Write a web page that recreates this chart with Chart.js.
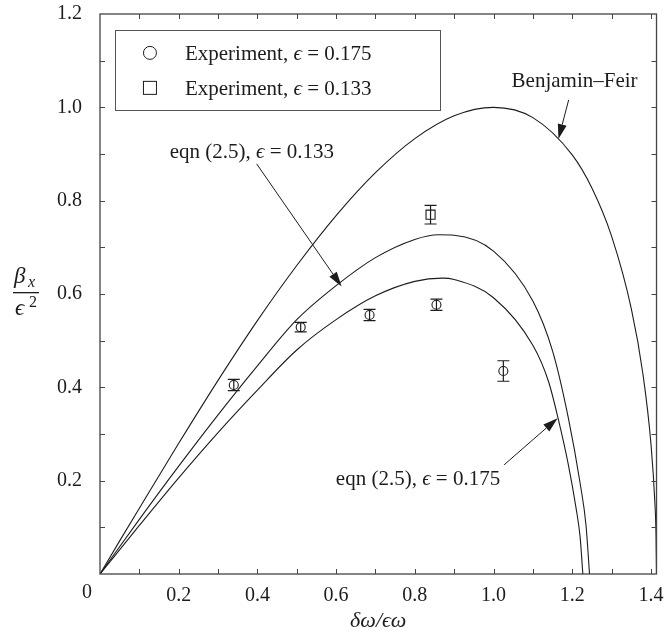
<!DOCTYPE html>
<html><head><meta charset="utf-8">
<script src="https://cdn.jsdelivr.net/npm/chart.js@4.4.1/dist/chart.umd.min.js"></script>
<style>html,body{margin:0;padding:0;background:#fff}#wrap{width:664px;height:638px}</style>
</head><body><div id="wrap"><canvas id="c" width="664" height="638"></canvas></div>
<script>
// ---- data ----
const BF_X = [0, 0.05, 0.1, 0.2, 0.3, 0.4, 0.5, 0.6, 0.7, 0.8, 0.9, 1.0, 1.1, 1.2, 1.25, 1.3, 1.35, 1.38, 1.4, 1.41, 1.413, 1.4142];
const BF_Y = [0, 0.071, 0.141, 0.280, 0.415, 0.543, 0.661, 0.768, 0.860, 0.933, 0.982, 1.000, 0.978, 0.898, 0.827, 0.724, 0.569, 0.427, 0.280, 0.154, 0.083, 0];

const EQ133_X = [0, 0.1, 0.2, 0.3, 0.4, 0.5, 0.6, 0.7, 0.8, 0.86, 0.9, 1.0, 1.1, 1.15, 1.19, 1.22, 1.235, 1.244];
const EQ133_Y = [0, 0.117, 0.231, 0.341, 0.446, 0.545, 0.618, 0.678, 0.717, 0.727, 0.726, 0.692, 0.585, 0.478, 0.335, 0.195, 0.105, 0];

const EQ175_X = [0, 0.1, 0.2, 0.3, 0.4, 0.5, 0.6, 0.7, 0.8, 0.87, 0.9, 1.0, 1.1, 1.14, 1.164, 1.19, 1.21, 1.22, 1.227];
const EQ175_Y = [0, 0.104, 0.206, 0.303, 0.394, 0.480, 0.545, 0.596, 0.627, 0.634, 0.631, 0.592, 0.490, 0.412, 0.334, 0.235, 0.140, 0.080, 0];

const EXP175_X = [0.34, 0.51, 0.685, 0.855, 1.025];
const EXP175_Y = [0.405, 0.529, 0.555, 0.577, 0.435];
const EXP175_ERR = [0.012, 0.010, 0.012, 0.012, 0.022];

const EXP133_X = [0.84];
const EXP133_Y = [0.770];
const EXP133_ERR = [0.020];

const X_TICKS = [0, 0.1, 0.2, 0.3, 0.4, 0.5, 0.6, 0.7, 0.8, 0.9, 1.0, 1.1, 1.2, 1.3, 1.4];
const X_LABELS = ['', '', '0.2', '', '0.4', '', '0.6', '', '0.8', '', '1.0', '', '1.2', '', '1.4'];
const Y_TICKS = [0, 0.1, 0.2, 0.3, 0.4, 0.5, 0.6, 0.7, 0.8, 0.9, 1.0, 1.1, 1.2];
const Y_LABELS = ['', '', '0.2', '', '0.4', '', '0.6', '', '0.8', '', '1.0', '', '1.2'];
const ORIGIN_LABEL = '0';
const EPS = '\u03F5';
const X_TITLE = 'δω/' + EPS + 'ω';
const LEGEND_LABELS = ['0.175', '0.133'];
const ANNOT = [
  {text: 'Benjamin\u2013Feir', tx: 1.206, ty: 1.044, align: 'center', eps: null, from: [1.191, 1.016], to: [1.165, 0.932]},
  {text: 'eqn (2.5), ', eps: '0.133', tx: 0.177, ty: 0.891, align: 'left', from: [0.398, 0.879], to: [0.614, 0.616]},
  {text: 'eqn (2.5), ', eps: '0.175', tx: 1.017, ty: 0.191, align: 'right', from: [1.027, 0.234], to: [1.163, 0.334]}
];

const zip = (xs, ys) => xs.map((x, i) => ({x, y: ys[i]}));
const INK = '#1c1c1c';
const SERIF = '"Liberation Serif", "DejaVu Serif", "Times New Roman", serif';

function drawRich(ctx, parts, x, y, align, size) {
  let w = 0;
  const fonts = parts.map(p => (p[1] ? 'italic ' : '') + size + 'px ' + SERIF);
  parts.forEach((p, i) => { ctx.font = fonts[i]; w += ctx.measureText(p[0]).width; });
  let sx = align === 'left' ? x : align === 'right' ? x - w : x - w / 2;
  ctx.textAlign = 'left';
  ctx.textBaseline = 'alphabetic';
  parts.forEach((p, i) => { ctx.font = fonts[i]; ctx.fillText(p[0], sx, y); sx += ctx.measureText(p[0]).width; });
}

function arrow(ctx, x1, y1, x2, y2) {
  const ang = Math.atan2(y2 - y1, x2 - x1);
  const L = 15, W = 4.5;
  const bx = x2 - L * Math.cos(ang), by = y2 - L * Math.sin(ang);
  ctx.beginPath(); ctx.moveTo(x1, y1); ctx.lineTo(bx, by); ctx.stroke();
  ctx.beginPath();
  ctx.moveTo(x2, y2);
  ctx.lineTo(bx + W * Math.sin(ang), by - W * Math.cos(ang));
  ctx.lineTo(bx - W * Math.sin(ang), by + W * Math.cos(ang));
  ctx.closePath(); ctx.fill();
}

const decor = {
  id: 'decor',
  afterDatasetsDraw(chart) {
    const ctx = chart.ctx, xs = chart.scales.x, ys = chart.scales.y, a = chart.chartArea;
    const X = v => xs.getPixelForValue(v), Y = v => ys.getPixelForValue(v);
    ctx.save();
    ctx.strokeStyle = INK; ctx.fillStyle = INK;
    // error bars
    ctx.lineWidth = 1.2;
    const eb = (xa, ya, ea) => xa.forEach((xv, i) => {
      const px = X(xv), t = Y(ya[i] + ea[i]), b = Y(ya[i] - ea[i]);
      ctx.beginPath();
      ctx.moveTo(px, t); ctx.lineTo(px, b);
      ctx.moveTo(px - 6, t); ctx.lineTo(px + 6, t);
      ctx.moveTo(px - 6, b); ctx.lineTo(px + 6, b);
      ctx.stroke();
    });
    eb(EXP175_X, EXP175_Y, EXP175_ERR);
    eb(EXP133_X, EXP133_Y, EXP133_ERR);
    // frame
    ctx.lineWidth = 1.3; ctx.strokeStyle = '#444';
    ctx.strokeRect(a.left, a.top, a.right - a.left, a.bottom - a.top);
    // inward ticks on all four sides
    ctx.lineWidth = 1;
    ctx.beginPath();
    X_TICKS.forEach(v => { if (v <= 0) return; const p = Math.round(X(v)) + 0.5;
      ctx.moveTo(p, a.bottom); ctx.lineTo(p, a.bottom - 5);
      ctx.moveTo(p, a.top); ctx.lineTo(p, a.top + 5); });
    Y_TICKS.forEach(v => { if (v <= 0 || v >= 1.2) return; const p = Math.round(Y(v)) + 0.5;
      ctx.moveTo(a.left, p); ctx.lineTo(a.left + 5, p);
      ctx.moveTo(a.right, p); ctx.lineTo(a.right - 5, p); });
    ctx.stroke();
    ctx.strokeStyle = INK;
    // origin label
    ctx.font = '20px ' + SERIF; ctx.textAlign = 'center'; ctx.textBaseline = 'alphabetic';
    ctx.fillText(ORIGIN_LABEL, X(0) - 13, a.bottom + 24);
    // legend box
    const lx1 = X(0.038), lx2 = X(0.865), ly1 = Y(1.166), ly2 = Y(0.994);
    ctx.lineWidth = 1; ctx.strokeStyle = '#555';
    ctx.strokeRect(Math.round(lx1) + 0.5, Math.round(ly1) + 0.5, Math.round(lx2 - lx1), Math.round(ly2 - ly1));
    ctx.strokeStyle = INK; ctx.lineWidth = 1;
    const c1y = ly1 + 23, c2y = ly1 + 58;
    ctx.beginPath(); ctx.arc(lx1 + 35, c1y, 6.5, 0, Math.PI * 2); ctx.stroke();
    ctx.strokeRect(lx1 + 28.5, c2y - 6.5, 13, 13);
    drawRich(ctx, [['Experiment, ', false], [EPS, true], [' = ' + LEGEND_LABELS[0], false]], lx1 + 70, c1y + 7, 'left', 21);
    drawRich(ctx, [['Experiment, ', false], [EPS, true], [' = ' + LEGEND_LABELS[1], false]], lx1 + 70, c2y + 7, 'left', 21);
    // annotations
    ctx.lineWidth = 1;
    ANNOT.forEach(an => {
      const parts = an.eps ? [[an.text, false], [EPS, true], [' = ' + an.eps, false]] : [[an.text, false]];
      drawRich(ctx, parts, X(an.tx), Y(an.ty), an.align, 21);
      arrow(ctx, X(an.from[0]), Y(an.from[1]), X(an.to[0]), Y(an.to[1]));
    });
    // axis titles
    drawRich(ctx, [[X_TITLE, true]], (a.left + a.right) / 2, a.bottom + 53, 'center', 22);
    const by = Y(0.6) - 1;
    ctx.font = 'italic 23px ' + SERIF; ctx.textAlign = 'left'; ctx.textBaseline = 'alphabetic';
    ctx.fillText('β', 14, by - 10);
    ctx.font = 'italic 16px ' + SERIF; ctx.fillText('x', 28, by - 6);
    ctx.fillRect(13, by - 1, 26, 1.3);
    ctx.font = 'italic 23px ' + SERIF; ctx.fillText(EPS, 15, by + 22);
    ctx.font = '16px ' + SERIF; ctx.fillText('2', 29, by + 14);
    ctx.restore();
  }
};

const lineDs = (label, xs, ys) => ({label, data: zip(xs, ys), showLine: true, pointRadius: 0,
  borderColor: INK, borderWidth: 1.1, cubicInterpolationMode: 'monotone', fill: false, order: 2});

const noPad = s => { s.paddingTop = 0; s.paddingBottom = 0; s.paddingLeft = 0; s.paddingRight = 0; };

new Chart(document.getElementById('c'), {
  type: 'scatter',
  data: {
    datasets: [
      lineDs('Benjamin–Feir', BF_X, BF_Y),
      lineDs('eqn (2.5), ϵ = 0.133', EQ133_X, EQ133_Y),
      lineDs('eqn (2.5), ϵ = 0.175', EQ175_X, EQ175_Y),
      {label: 'Experiment, ϵ = 0.175', data: zip(EXP175_X, EXP175_Y), pointStyle: 'circle', pointRadius: 4.5,
        backgroundColor: '#fff', borderColor: INK, borderWidth: 1.1, showLine: false, order: 1},
      {label: 'Experiment, ϵ = 0.133', data: zip(EXP133_X, EXP133_Y), pointStyle: 'rect', pointRadius: 6.4,
        backgroundColor: '#fff', borderColor: INK, borderWidth: 1.1, showLine: false, order: 1}
    ]
  },
  options: {
    responsive: false, animation: false, devicePixelRatio: 1,
    layout: {padding: {top: 14, right: 2, left: 0, bottom: 0}},
    plugins: {legend: {display: false}, tooltip: {enabled: false}},
    scales: {
      x: {type: 'linear', min: 0, max: 1.4142,
        afterFit: s => { s.height = 64; noPad(s); },
        afterBuildTicks: s => { s.ticks = X_TICKS.map(v => ({value: v})); },
        grid: {display: false}, border: {display: false},
        ticks: {autoSkip: false, maxRotation: 0, padding: 2, color: INK, font: {family: SERIF, size: 20},
          callback: (v, i) => X_LABELS[i]}},
      y: {type: 'linear', min: 0, max: 1.2,
        afterFit: s => { s.width = 100; noPad(s); },
        afterBuildTicks: s => { s.ticks = Y_TICKS.map(v => ({value: v})); },
        grid: {display: false}, border: {display: false},
        ticks: {autoSkip: false, padding: 10, color: INK, font: {family: SERIF, size: 20},
          callback: (v, i) => Y_LABELS[i]}}
    }
  },
  plugins: [decor]
});
</script></body></html>
